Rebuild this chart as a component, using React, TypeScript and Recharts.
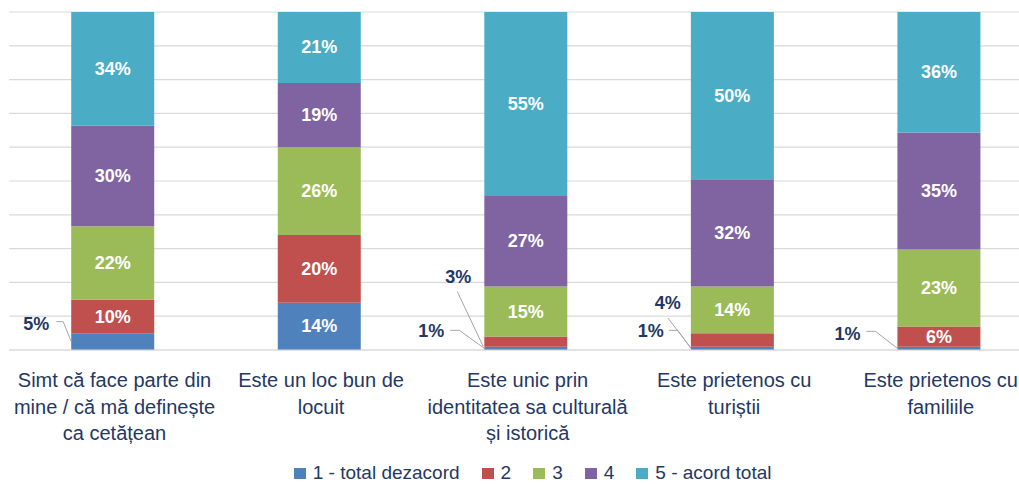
import React from "react";
import { BarChart, Bar, XAxis, YAxis, CartesianGrid, Legend, LabelList } from "recharts";

const categories = [
  "Simt că face parte din\nmine / că mă definește\nca cetățean",
  "Este un loc bun de\nlocuit",
  "Este unic prin\nidentitatea sa culturală\nși istorică",
  "Este prietenos cu\nturiștii",
  "Este prietenos cu\nfamiliile",
];
const seriesNames = ["1 - total dezacord", "2", "3", "4", "5 - acord total"];
const s1 = [5, 14, 1, 1, 1];
const s2 = [10, 20, 3, 4, 6];
const s3 = [22, 26, 15, 14, 23];
const s4 = [30, 19, 27, 32, 35];
const s5 = [34, 21, 55, 50, 36];
const seriesValues = [s1, s2, s3, s4, s5];
const gridTicks = [0, 0.1, 0.2, 0.3, 0.4, 0.5, 0.6, 0.7, 0.8, 0.9, 1];

const colors = ["#4F81BD", "#C0504D", "#9BBB59", "#8064A2", "#4BACC6"];
const NAVY = "#1F3864";
const FONT = "'Liberation Sans', Arial, sans-serif";

// layout for callout labels (offsets relative to bar left edge / segment centre)
const callouts: Record<string, { tx: number; ty: number; pts: number[][] }> = {
  "0-0": { tx: -35, ty: -18, pts: [[-15, -20], [-8, -20], [0, 0]] },
  "0-2": { tx: -53, ty: -17, pts: [[-34, -18], [-25, -18], [0, 0]] },
  "0-3": { tx: -40, ty: -17, pts: [[-22, -18], [-13, -18], [0, 0]] },
  "0-4": { tx: -50, ty: -14, pts: [[-31, -17], [-22, -17], [0, 0]] },
  "1-2": { tx: -26, ty: -65, pts: [[-27, -50], [-1, 5]] },
  "1-3": { tx: -23, ty: -37, pts: [[-23, -22], [0, 8]] },
};

const data = categories.map((c, i) => ({
  name: c,
  s1: s1[i],
  s2: s2[i],
  s3: s3[i],
  s4: s4[i],
  s5: s5[i],
}));

const makeLabel = (si: number) => (props: any) => {
  const vb = props.viewBox || {};
  const x = props.x ?? vb.x;
  const y = props.y ?? vb.y;
  const w = props.width ?? vb.width;
  const h = props.height ?? vb.height;
  const idx = props.index;
  if (idx == null || x == null) return null;
  const v = seriesValues[si][idx];
  const key = `${si}-${idx}`;
  const cy = y + h / 2;
  const co = callouts[key];
  if (co) {
    const pts = co.pts.map((p) => `${x + p[0]},${cy + p[1]}`).join(" ");
    return (
      <g>
        <polyline points={pts} fill="none" stroke="#A6A6A6" strokeWidth={1} />
        <text
          x={x + co.tx}
          y={cy + co.ty}
          textAnchor="middle"
          dominantBaseline="central"
          fill={NAVY}
          fontFamily={FONT}
          fontWeight="bold"
          fontSize={18}
        >
          {v}%
        </text>
      </g>
    );
  }
  return (
    <text
      x={x + w / 2}
      y={cy}
      textAnchor="middle"
      dominantBaseline="central"
      fill="#FFFFFF"
      fontFamily={FONT}
      fontWeight="bold"
      fontSize={18}
    >
      {v}%
    </text>
  );
};

const CategoryTick = (props: any) => {
  const { x, y, payload } = props;
  const lines = String(payload.value).split("\n");
  return (
    <text x={x} y={y} textAnchor="middle" fill={NAVY} fontFamily={FONT} fontSize={20}>
      {lines.map((l, i) => (
        <tspan key={i} x={x + 2} y={y + 37 + i * 26.5}>
          {l}
        </tspan>
      ))}
    </text>
  );
};

const LegendContent = () => (
  <div
    style={{
      height: 34,
      display: "flex",
      justifyContent: "center",
      alignItems: "flex-end",
      gap: 22,
      paddingLeft: 14,
      fontFamily: FONT,
      fontSize: 19,
      color: NAVY,
      lineHeight: "22px",
    }}
  >
    {seriesNames.map((n, i) => (
      <div key={n} style={{ display: "flex", alignItems: "center", gap: 7 }}>
        <span style={{ display: "inline-block", width: 12, height: 11, background: colors[i] }} />
        <span>{n}</span>
      </div>
    ))}
  </div>
);

export default function App() {
  return (
    <div style={{ width: 1019, height: 484, overflow: "hidden", position: "relative" }}>
      <style>{`html, body { margin: 0; padding: 0; overflow: hidden; }`}</style>
      <BarChart
        width={1048}
        height={484}
        data={data}
        stackOffset="expand"
        barCategoryGap="30%"
        margin={{ top: 12, right: 6, left: 9.25, bottom: 0 }}
      >
        <CartesianGrid vertical={false} stroke="#D9D9D9" strokeWidth={1.2} />
        <XAxis
          dataKey="name"
          height={100}
          interval={0}
          tickLine={false}
          tickSize={0}
          tickMargin={0}
          axisLine={{ stroke: "#D9D9D9", strokeWidth: 1.2 }}
          tick={<CategoryTick />}
        />
        <YAxis hide domain={[0, 1]} ticks={gridTicks} />
        <Legend verticalAlign="bottom" content={<LegendContent />} />
        {["s1", "s2", "s3", "s4", "s5"].map((k, si) => (
          <Bar key={k} dataKey={k} name={seriesNames[si]} stackId="a" fill={colors[si]} isAnimationActive={false}>
            <LabelList dataKey={k} content={makeLabel(si)} />
          </Bar>
        ))}
      </BarChart>
    </div>
  );
}
